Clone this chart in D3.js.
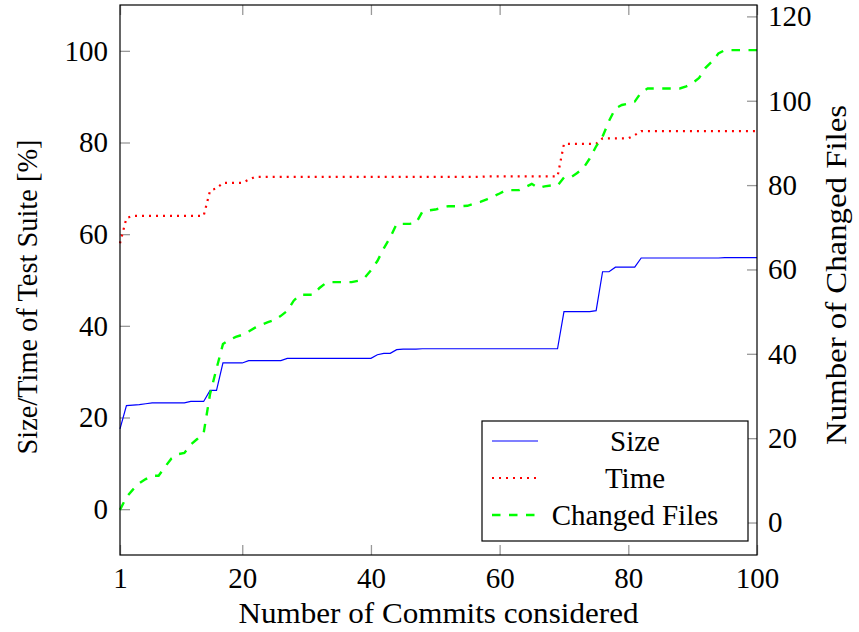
<!DOCTYPE html>
<html>
<head>
<meta charset="utf-8">
<script src="https://cdn.jsdelivr.net/npm/d3@7"></script>
<style>
  body { margin: 0; background: #fff; }
  .tick line { stroke: #999; stroke-width: 1.3; }
  .domain { stroke: none; }
</style>
</head>
<body>
<div id="chart"></div>
<script>
// commits considered (x)
var commits = d3.range(1, 101);

// Size of test suite [%]
var sizeVals = [17.5, 22.6, 22.7, 22.8, 23.0,
  23.2, 23.2, 23.2, 23.2, 23.2, 23.2,
  23.5, 23.5, 23.5, 25.9, 25.9,
  31.9, 31.9, 31.9, 31.9,
  32.4, 32.4, 32.4, 32.4, 32.4, 32.4,
  32.9, 32.9, 32.9, 32.9, 32.9, 32.9, 32.9, 32.9, 32.9, 32.9, 32.9, 32.9, 32.9, 32.9,
  33.7, 34.0, 34.0, 34.8, 34.9, 34.9, 34.9,
  35.0, 35.0, 35.0, 35.0, 35.0, 35.0, 35.0, 35.0, 35.0, 35.0, 35.0,
  35.0, 35.0, 35.0, 35.0, 35.0, 35.0, 35.0, 35.0, 35.0, 35.0, 35.0,
  43.1, 43.1, 43.1, 43.1, 43.1, 43.3,
  51.8, 51.8, 52.8, 52.8, 52.8, 52.8,
  54.8, 54.8, 54.8, 54.8, 54.8, 54.8, 54.8, 54.8, 54.8, 54.8,
  54.8, 54.8, 54.8, 54.9, 54.9, 54.9, 54.9, 54.9, 54.9];

// Time of test suite [%]
var timeVals = [58, 63.5,
  64, 64, 64, 64, 64, 64, 64, 64, 64, 64, 64, 64,
  69.5, 70, 71.2, 71.2, 71.2, 71.2, 71.9,
  72.5, 72.5, 72.5, 72.5, 72.5, 72.5, 72.5, 72.5, 72.5, 72.5, 72.5, 72.5,
  72.5, 72.5, 72.5, 72.5, 72.5, 72.5, 72.5, 72.5, 72.5, 72.5, 72.5, 72.5,
  72.5, 72.5, 72.5, 72.5, 72.5, 72.5, 72.5, 72.5, 72.5, 72.5, 72.5, 72.5,
  72.6, 72.6, 72.6, 72.6, 72.6, 72.6, 72.6, 72.6, 72.6, 72.6, 72.6, 72.6,
  79.7, 79.7, 79.7, 79.7, 79.7, 79.7,
  80.9, 80.9, 80.9, 80.9, 80.9, 81.6,
  82.5, 82.5, 82.5, 82.5, 82.5, 82.5, 82.5, 82.5, 82.5, 82.5,
  82.5, 82.5, 82.5, 82.5, 82.5, 82.5, 82.5, 82.5, 82.5];

// Number of changed files (right axis)
var filesVals = [3, 6, 7.8, 9.3, 10.3, 11.1, 11.1, 13.2, 15.2, 16.2,
  16.5, 18.5, 19.8, 21.2, 30.5, 36.5, 42.3, 43.3, 44, 44.5,
  45.3, 46.2, 46.9, 47.5, 48, 49, 50.2, 52.6, 54, 54,
  54, 55.6, 56.8, 57, 57, 57, 57, 57.3, 58, 59.8,
  62, 65, 67.6, 70.8, 70.8, 70.8, 71, 73.7, 74, 74.2,
  74.6, 75, 75, 75, 75.1, 75.6, 76, 76.6, 77.3, 78,
  78.8, 78.8, 78.8, 79.5, 80.3, 79.3, 79.7, 79.9, 79.9, 81.8,
  81.8, 82.8, 84, 86.3, 89.2, 91.5, 95.2, 98.2, 99, 99.3,
  99.8, 102, 102.9, 102.9, 102.9, 102.9, 102.9, 102.9, 103.4, 104.2,
  105.4, 107.8, 109.3, 111.2, 112, 112, 112, 112, 112, 112];

var xTicks = [1, 20, 40, 60, 80, 100];
var leftTicks = [0, 20, 40, 60, 80, 100];
var rightTicks = [0, 20, 40, 60, 80, 100, 120];

var legendNames = ["Size", "Time", "Changed Files"];

var svgWidth = 859, svgHeight = 632;
var margin = { top: 5, right: 102, bottom: 77, left: 120 };
var width = svgWidth - margin.left - margin.right;
var height = svgHeight - margin.top - margin.bottom;

var FONT = '"Liberation Serif", "Times New Roman", serif';
var fs = "29px";

var svg = d3.select("#chart").append("svg")
    .attr("width", svgWidth)
    .attr("height", svgHeight);

var chartGroup = svg.append("g")
    .attr("transform", `translate(${margin.left}, ${margin.top})`);

var xScale = d3.scaleLinear().domain([1, 100]).range([0, width]);
var yLeft = d3.scaleLinear().domain([-10, 110]).range([height, 0]);
var yRight = d3.scaleLinear().domain([-7.7, 122.7]).range([height, 0]);

function styleTicks(g) {
    g.attr("font-family", null).attr("font-size", null);
    g.selectAll("text")
        .style("font-family", FONT)
        .style("font-size", fs)
        .attr("fill", "#000");
}

// axes (ticks pointing inward like pgfplots)
chartGroup.append("g")
    .attr("transform", `translate(0, ${height})`)
    .call(d3.axisBottom(xScale).tickValues(xTicks).tickFormat(d3.format("d"))
        .tickSizeInner(-10).tickSizeOuter(0).tickPadding(12))
    .call(styleTicks);

chartGroup.append("g")
    .call(d3.axisTop(xScale).tickValues(xTicks).tickFormat("")
        .tickSizeInner(-10).tickSizeOuter(0));

chartGroup.append("g")
    .call(d3.axisLeft(yLeft).tickValues(leftTicks).tickFormat(d3.format("d"))
        .tickSizeInner(-10).tickSizeOuter(0).tickPadding(12))
    .call(styleTicks);

chartGroup.append("g")
    .attr("transform", `translate(${width}, 0)`)
    .call(d3.axisRight(yRight).tickValues(rightTicks).tickFormat(d3.format("d"))
        .tickSizeInner(-10).tickSizeOuter(0).tickPadding(11))
    .call(styleTicks);

// lines
var sizeLine = d3.line().x((d, i) => xScale(commits[i])).y(d => yLeft(d));
var filesLine = d3.line().x((d, i) => xScale(commits[i])).y(d => yRight(d));

chartGroup.append("path")
    .datum(sizeVals)
    .attr("d", sizeLine)
    .attr("fill", "none")
    .attr("stroke", "#0000ff")
    .attr("stroke-width", 1.2);

chartGroup.append("path")
    .datum(timeVals)
    .attr("d", sizeLine)
    .attr("fill", "none")
    .attr("stroke", "#ff0000")
    .attr("stroke-width", 2.2)
    .attr("stroke-dasharray", "2,5");

chartGroup.append("path")
    .datum(filesVals)
    .attr("d", filesLine)
    .attr("fill", "none")
    .attr("stroke", "#00ff00")
    .attr("stroke-width", 2.4)
    .attr("stroke-dasharray", "8.5,8.5");

// frame
chartGroup.append("rect")
    .attr("width", width)
    .attr("height", height)
    .attr("fill", "none")
    .attr("stroke", "#000")
    .attr("stroke-width", 1.2);

// legend
var legend = svg.append("g").attr("transform", "translate(482, 421)");
legend.append("rect")
    .attr("width", 266)
    .attr("height", 120)
    .attr("fill", "#fff")
    .attr("stroke", "#000")
    .attr("stroke-width", 1.2);

var legendStyles = [
    { color: "#0000ff", w: 1.2, dash: null },
    { color: "#ff0000", w: 2.2, dash: "2,5" },
    { color: "#00ff00", w: 2.4, dash: "8.5,8.5" }
];

legendNames.forEach(function(name, i) {
    var cy = 20 + i * 37;
    legend.append("line")
        .attr("x1", 10).attr("x2", 56)
        .attr("y1", cy).attr("y2", cy)
        .attr("stroke", legendStyles[i].color)
        .attr("stroke-width", legendStyles[i].w)
        .attr("stroke-dasharray", legendStyles[i].dash);
    legend.append("text")
        .attr("x", 153)
        .attr("y", cy)
        .attr("dy", "0.35em")
        .attr("text-anchor", "middle")
        .style("font-family", FONT)
        .style("font-size", fs)
        .text(name);
});

// axis labels
svg.append("text")
    .attr("transform", `translate(${margin.left + width / 2}, 623)`)
    .attr("text-anchor", "middle")
    .attr("textLength", 400)
    .attr("lengthAdjust", "spacingAndGlyphs")
    .style("font-family", FONT)
    .style("font-size", fs)
    .text("Number of Commits considered");

svg.append("text")
    .attr("transform", "translate(37, 297) rotate(-90)")
    .attr("text-anchor", "middle")
    .attr("textLength", 315)
    .attr("lengthAdjust", "spacingAndGlyphs")
    .style("font-family", FONT)
    .style("font-size", fs)
    .text("Size/Time of Test Suite [%]");

svg.append("text")
    .attr("transform", "translate(846, 275) rotate(-90)")
    .attr("text-anchor", "middle")
    .attr("textLength", 340)
    .attr("lengthAdjust", "spacingAndGlyphs")
    .style("font-family", FONT)
    .style("font-size", fs)
    .text("Number of Changed Files");
</script>
</body>
</html>
